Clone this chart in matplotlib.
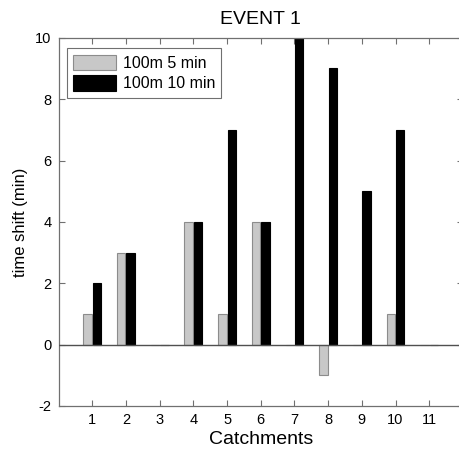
import numpy as np
import matplotlib.pyplot as plt

plt.rcParams['font.family'] = ['Liberation Sans', 'DejaVu Sans']
plt.rcParams['axes.unicode_minus'] = False

catchments = np.arange(1, 12)
shift_5min = [1, 3, 0, 4, 1, 4, 0, -1, 0, 1, 0]
shift_10min = [2, 3, 0, 4, 7, 4, 10, 9, 5, 7, 0]
series_labels = ["100m 5 min", "100m 10 min"]

axis_grey = "#707070"

fig = plt.figure(figsize=(4.6, 4.49), dpi=100)
ax = fig.add_axes([0.1274, 0.0958, 0.879, 0.820])

width = 0.25
ax.bar(catchments - 0.14, shift_5min, width, color="#c8c8c8", edgecolor="#8c8c8c",
       linewidth=0.8, label=series_labels[0], zorder=2)
ax.bar(catchments + 0.14, shift_10min, width, color="black", edgecolor="black",
       linewidth=0.8, label=series_labels[1], zorder=2)
ax.axhline(0, color="#505050", linewidth=1.0, zorder=3)

ax.set_xlim(0, 12)
ax.set_ylim(-2, 10)
ax.set_xticks(catchments)
ax.set_yticks(np.arange(-2, 11, 2))
ax.tick_params(direction="in", length=4, width=0.8, color=axis_grey,
               labelsize=10.5, top=True, right=True, pad=5)
for s in ax.spines.values():
    s.set_color(axis_grey)
    s.set_linewidth(0.9)

ax.set_title("EVENT 1", fontsize=14, pad=10)
ax.set_xlabel("Catchments", fontsize=14, labelpad=3)
ax.set_ylabel("time shift (min)", fontsize=12, labelpad=5)

leg = ax.legend(loc="upper left", bbox_to_anchor=(0.02, 0.972), borderaxespad=0,
                fontsize=11.5, handlelength=2.7, handleheight=1.1, fancybox=False,
                edgecolor=axis_grey, framealpha=1, borderpad=0.4, labelspacing=0.3,
                handletextpad=0.4)
leg.get_frame().set_linewidth(0.8)

fig.savefig("out.png", dpi=100)
